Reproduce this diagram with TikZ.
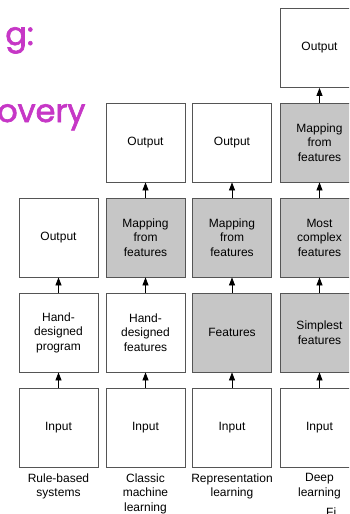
\documentclass[tikz,border=0pt]{standalone}
\usepackage{fontspec}
\setmainfont{Liberation Sans}
\newfontfamily\handfont{Poppins}[FakeBold=2]
\usetikzlibrary{arrows.meta}
\definecolor{boxline}{HTML}{555555}
\definecolor{boxgray}{HTML}{C6C6C6}
\definecolor{penpink}{HTML}{C637C6}
\tikzset{
  stage/.style={draw=boxline, line width=0.8pt, fill=white, minimum width=79pt,
    minimum height=79pt, inner sep=0pt, align=center, font=\fontsize{12}{14.5}\selectfont},
  learned/.style={stage, fill=boxgray},
  flow/.style={-{Triangle[length=8pt,width=6pt]}, line width=0.8pt, black},
  caption/.style={anchor=north, align=center, font=\fontsize{12}{14.5}\selectfont},
  scribble/.style={text=penpink, font=\handfont\fontsize{32}{32}\selectfont, inner sep=0pt}
}
\begin{document}
\begin{tikzpicture}[x=1pt, y=-1pt]
\useasboundingbox (0,0) rectangle (349,514);
\clip (0,0) rectangle (349,514);

% handwritten heading fragments
\node[scribble, anchor=base east] (h1) at (34,45) {g:};
\node[scribble, anchor=base west] (h2) at (-3,122) {overy};

% rule-based systems
\node[stage] (a1) at (58.5,427.5) {Input};
\node[stage] (a2) at (58.5,332.5) {Hand-\\designed\\program};
\node[stage] (a3) at (58.5,237.5) {Output};

% classic machine learning
\node[stage] (b1) at (145.5,427.5) {Input};
\node[stage] (b2) at (145.5,332.5) {Hand-\\designed\\features};
\node[learned] (b3) at (145.5,237.5) {Mapping\\from\\features};
\node[stage] (b4) at (145.5,142.5) {Output};

% representation learning
\node[stage] (c1) at (232,427.5) {Input};
\node[learned] (c2) at (232,332.5) {Features};
\node[learned] (c3) at (232,237.5) {Mapping\\from\\features};
\node[stage] (c4) at (232,142.5) {Output};

% deep learning
\node[stage] (d1) at (319.5,427.5) {Input};
\node[learned] (d2) at (319.5,332.5) {Simplest\\features};
\node[learned] (d3) at (319.5,237.5) {Most\\complex\\features};
\node[learned] (d4) at (319.5,142.5) {Mapping\\from\\features};
\node[stage] (d5) at (319.5,48) {Output};

% arrows between stages
\foreach \lo/\hi in {a1/a2, a2/a3, b1/b2, b2/b3, b3/b4, c1/c2, c2/c3, c3/c4,
                     d1/d2, d2/d3, d3/d4, d4/d5}
  \draw[flow] (\lo.north) -- (\hi.south);

% column captions
\node[caption] (la) at (58.5,470) {Rule-based\\systems};
\node[caption] (lb) at (145.5,470) {Classic\\machine\\learning};
\node[caption] (lc) at (232,470) {Representation\\learning};
\node[caption] (ld) at (319.5,470) {Deep\\learning};

\node[anchor=north west, inner sep=0pt, font=\fontsize{12}{13}\selectfont] (fig) at (326,508) {Fi};
\end{tikzpicture}
\end{document}
